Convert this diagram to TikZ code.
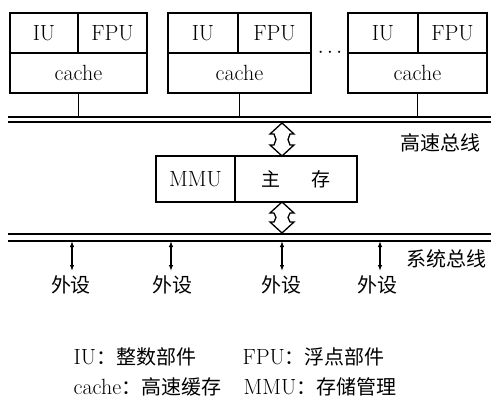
\documentclass[tikz,border=0pt]{standalone}
\usepackage{fontspec}
\newfontfamily\cjk{Noto Sans CJK SC}
\usetikzlibrary{arrows.meta}
\begin{document}
\begin{tikzpicture}[x=1pt,y=-1pt,line width=1.2pt,
  cell/.style={draw,inner sep=0pt,minimum height=40pt,font=\fontsize{22}{26}\selectfont},
  lbl/.style={inner sep=0pt,font=\fontsize{22}{26}\selectfont},
  cjklbl/.style={inner sep=0pt,font=\cjk\fontsize{20}{24}\selectfont},
  hollow/.style={draw,line width=1.3pt,fill=white,line join=miter},
  dev/.style={{Latex[length=6pt,width=4.5pt]}-{Latex[length=6pt,width=4.5pt]},line width=1.6pt,shorten >=4pt}]
\useasboundingbox (0,0) rectangle (491,402);
% processors
\node[cell,minimum width=68pt] (iu1) at (44,33) {IU};
\node[cell,minimum width=69pt] (fpu1) at (112.5,33) {FPU};
\node[cell,minimum width=137pt] (c1) at (78.5,73) {cache};
\node[cell,minimum width=70pt] (iu2) at (203,33) {IU};
\node[cell,minimum width=73pt] (fpu2) at (274.5,33) {FPU};
\node[cell,minimum width=143pt] (c2) at (239.5,73) {cache};
\node[cell,minimum width=70pt] (iu3) at (383,33) {IU};
\node[cell,minimum width=69pt] (fpu3) at (452.5,33) {FPU};
\node[cell,minimum width=139pt] (c3) at (417.5,73) {cache};
\node[inner sep=0pt,font=\fontsize{20}{24}\selectfont] (dots) at (330,53) {$\cdots$};
% high speed bus
\coordinate (b1a) at (8,117); \coordinate (b1b) at (491,117);
\coordinate (b1c) at (8,122); \coordinate (b1d) at (491,122);
\draw (b1a) -- (b1b);
\draw (b1c) -- (b1d);
\foreach \c in {c1,c2,c3} \draw (\c.south) -- (\c.south |- b1a);
\node[cjklbl] (hb) at (440,143) {高速总线};
% memory
\node[cell,minimum width=79pt,minimum height=46pt] (mmu) at (195.5,179) {MMU};
\node[cell,minimum width=122pt,minimum height=46pt,font=\cjk\fontsize{19}{24}\selectfont] (mem) at (296,179) {主\hspace{32pt}存};
% system bus
\coordinate (b2a) at (8,234); \coordinate (b2b) at (491,234);
\coordinate (b2c) at (8,241); \coordinate (b2d) at (491,241);
\draw (b2a) -- (b2b);
\draw (b2c) -- (b2d);
\node[cjklbl] (sb) at (446,259) {系统总线};
% hollow double arrows
\foreach \ya/\yb in {123/156,202/233}{
  \draw[hollow] (282,\ya) -- (294,\ya+11) -- (290,\ya+11) -- (288,\ya/2+\yb/2) -- (290,\yb-11) -- (294,\yb-11) -- (282,\yb)
    -- (270,\yb-11) -- (274,\yb-11) -- (276,\ya/2+\yb/2) -- (274,\ya+11) -- (270,\ya+11) -- cycle;
}
% peripherals
\node[cjklbl] (p1) at (71,285) {外设};
\node[cjklbl] (p2) at (172,285) {外设};
\node[cjklbl] (p3) at (281,285) {外设};
\node[cjklbl] (p4) at (377,285) {外设};
\draw[dev] (72,241) -- (72,275);
\draw[dev] (171,241) -- (171,275);
\draw[dev] (282,241) -- (282,275);
\draw[dev] (380,241) -- (380,275);
% legend
\node[lbl,anchor=west] (l1) at (73,357) {IU{\cjk\fontsize{20}{24}\selectfont ：整数部件}};
\node[lbl,anchor=west] (l2) at (242,357) {FPU{\cjk\fontsize{20}{24}\selectfont ：浮点部件}};
\node[lbl,anchor=west] (l3) at (73,387) {cache{\cjk\fontsize{20}{24}\selectfont ：高速缓存}};
\node[lbl,anchor=west] (l4) at (243,387) {MMU{\cjk\fontsize{20}{24}\selectfont ：存储管理}};
\end{tikzpicture}
\end{document}
